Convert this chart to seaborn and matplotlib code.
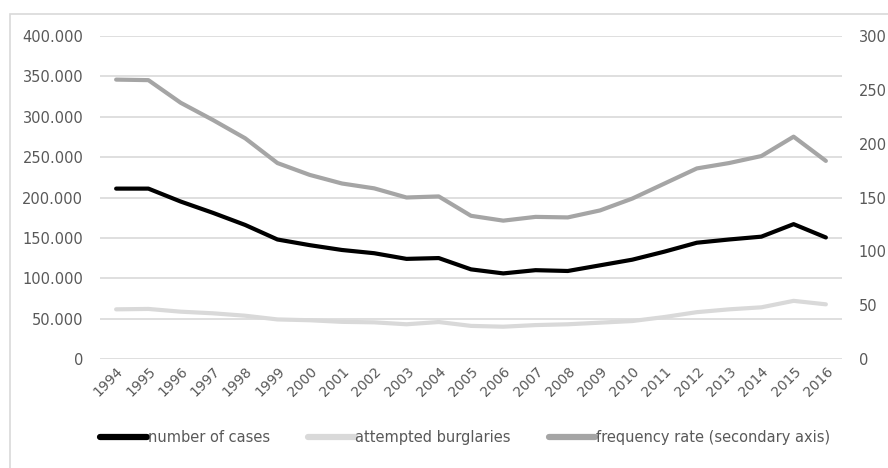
import matplotlib
matplotlib.use("Agg")
import matplotlib.pyplot as plt
import matplotlib.ticker as mticker
from matplotlib.patches import Rectangle
from matplotlib.lines import Line2D
import pandas as pd
import seaborn as sns

sns.set_style("white")
plt.rcParams['font.family'] = ['DejaVu Sans']

anos = list(range(1994, 2017))
# numero de casos (eixo principal)
casos = [211000, 211000, 195000, 181000, 166000, 148000, 141000, 135000, 131000, 124000,
         125000, 111000, 106000, 110000, 109000, 116000, 123000, 133000, 144000, 148000,
         151500, 167000, 150500]
# tentativas (eixo principal)
tentativas = [61500, 62000, 58600, 56600, 53600, 49000, 48000, 46000, 45400, 43000,
              45800, 41000, 40000, 42000, 43000, 45000, 47000, 52000, 58000, 61500,
              64000, 72000, 67700]
# taxa de frequencia (eixo secundario)
taxa = [259.5, 259, 238, 222, 205, 182, 171, 163, 158.5, 150,
        151, 133, 128.5, 132, 131.5, 138, 149, 163, 177, 182,
        188.5, 206.5, 184]

df = pd.DataFrame({"ano": [str(a) for a in anos], "pos": range(len(anos)),
                   "casos": casos, "tentativas": tentativas, "taxa": taxa})

preto = "#000000"
cinza_claro = "#d9d9d9"
cinza = "#a5a5a5"
texto = "#595959"

fig = plt.figure(figsize=(8.88, 4.68), dpi=100)
ax = fig.add_axes([100/888, 1 - 359/468, 742/888, 323/468])
ax2 = ax.twinx()

sns.lineplot(data=df, x="pos", y="casos", ax=ax, color=preto, lw=3, zorder=3)
sns.lineplot(data=df, x="pos", y="tentativas", ax=ax, color=cinza_claro, lw=3, zorder=3)
sns.lineplot(data=df, x="pos", y="taxa", ax=ax2, color=cinza, lw=3)

ax.set_xlim(-0.5, len(anos) - 0.5)
ax.set_ylim(0, 400000)
ax2.set_ylim(0, 300)
ax.set_yticks(range(0, 400001, 50000))
ax2.set_yticks(range(0, 301, 50))
ax.yaxis.set_major_formatter(mticker.FuncFormatter(lambda v, p: f"{int(v):,}".replace(",", ".")))

ax.set_xticks(df["pos"])
ax.set_xticklabels(df["ano"], rotation=45, ha="right", rotation_mode="anchor")

ax.grid(axis="y", color=cinza_claro, lw=1.2)
ax.grid(axis="x", visible=False)
ax2.grid(False)
for a in (ax, ax2):
    for s in a.spines.values():
        s.set_visible(False)
    a.set_xlabel("")
    a.set_ylabel("")
    a.tick_params(length=0, labelsize=10.5, labelcolor=texto)
ax.tick_params(axis="y", pad=12)
ax.tick_params(axis="x", pad=4, labelsize=10)
ax2.tick_params(axis="y", pad=12)

handles = [Line2D([], [], color=preto, lw=4.5),
           Line2D([], [], color=cinza_claro, lw=4.5),
           Line2D([], [], color=cinza, lw=4.5)]
nomes = ["number of cases", "attempted burglaries", "frequency rate (secondary axis)"]
leg = fig.legend(handles, nomes, loc="center", bbox_to_anchor=(0.524, 0.066), ncol=3,
                 frameon=False, handlelength=3.2, handletextpad=0.05, columnspacing=2.6,
                 fontsize=10.5)
for t in leg.get_texts():
    t.set_color(texto)

# moldura do grafico (so a esquerda e o topo aparecem)
fig.patches.append(Rectangle((10/888, -0.5), 2, 0.5 + 1 - 14/468, transform=fig.transFigure,
                             fill=False, edgecolor=cinza_claro, lw=1.2))

fig.savefig("out.png", dpi=100)
